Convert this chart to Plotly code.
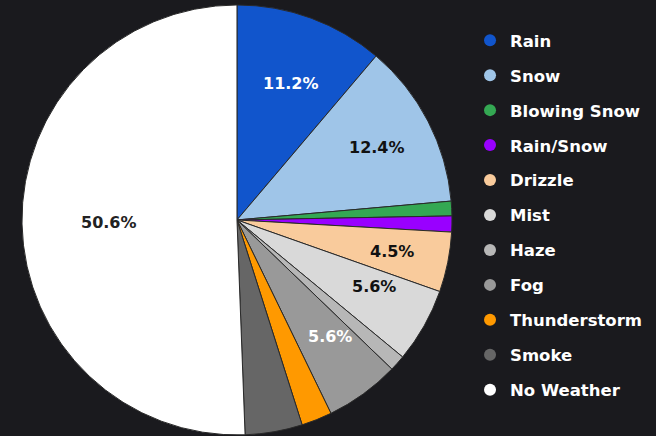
import math
import plotly.graph_objects as go

labels = ["Rain", "Snow", "Blowing Snow", "Rain/Snow", "Drizzle", "Mist",
          "Haze", "Fog", "Thunderstorm", "Smoke", "No Weather"]
values = [11.2, 12.4, 1.1, 1.2, 4.5, 5.6, 1.2, 5.6, 2.3, 4.3, 50.6]

colors = ["#1155cc", "#9fc5e8", "#34a853", "#9900ff", "#f9cb9c", "#d9d9d9",
          "#b7b7b7", "#999999", "#ff9900", "#666666", "#ffffff"]
text_colors = ["#ffffff", "#111111", "#111111", "#111111", "#111111", "#111111",
               "#111111", "#ffffff", "#111111", "#111111", "#222222"]

LABEL_MIN = 4.4
W, H = 656, 436
BG = "#1a1a1e"
FONT = "DejaVu Sans"
DOM_X = [0.0335, 0.689]
DOM_Y = [0.002, 0.989]

fig = go.Figure()
fig.add_trace(go.Pie(
    labels=labels, values=values, sort=False, direction="clockwise", rotation=0,
    textinfo="none",
    marker=dict(colors=colors, line=dict(color="#2a2a2a", width=1)),
    domain=dict(x=DOM_X, y=DOM_Y),
    showlegend=False, hoverinfo="label+percent",
))

# percentage labels placed at ~0.735 of the radius along each slice's mid-angle
total = sum(values)
cx_px = (DOM_X[0] + DOM_X[1]) / 2 * W
cy_px = (DOM_Y[0] + DOM_Y[1]) / 2 * H
radius = min((DOM_X[1] - DOM_X[0]) * W, (DOM_Y[1] - DOM_Y[0]) * H) / 2
cum = 0.0
for v, tc in zip(values, text_colors):
    mid = (cum + v / 2) / total * 2 * math.pi
    cum += v
    if v < LABEL_MIN:
        continue
    px = cx_px + 0.735 * radius * math.sin(mid)
    py = cy_px + 0.735 * radius * math.cos(mid)
    fig.add_annotation(
        x=px / W, y=py / H, xref="paper", yref="paper",
        text=f"{v / total * 100:.1f}%", showarrow=False,
        font=dict(family=FONT, size=16, color=tc, weight="bold"),
    )

for i, (lab, col) in enumerate(zip(labels, colors)):
    fig.add_trace(go.Scatter(
        x=[None], y=[None], mode="markers", name=lab,
        marker=dict(color=col, size=13, symbol="circle"),
        legendgroup=f"g{i}", showlegend=True,
    ))

fig.update_layout(
    width=W, height=H,
    paper_bgcolor=BG, plot_bgcolor=BG,
    margin=dict(l=0, r=0, t=0, b=0),
    xaxis=dict(visible=False), yaxis=dict(visible=False),
    legend=dict(
        x=0.7165, xanchor="left", y=1 - 23 / H, yanchor="top",
        font=dict(family=FONT, size=16.5, color="#ffffff", weight="bold"),
        tracegroupgap=10.5, itemsizing="constant", bgcolor="rgba(0,0,0,0)",
    ),
)

fig.write_html(
    "out.html",
    config={"displayModeBar": False},
    post_script="document.body.style.margin='0';document.body.style.background='#1a1a1e';",
)
